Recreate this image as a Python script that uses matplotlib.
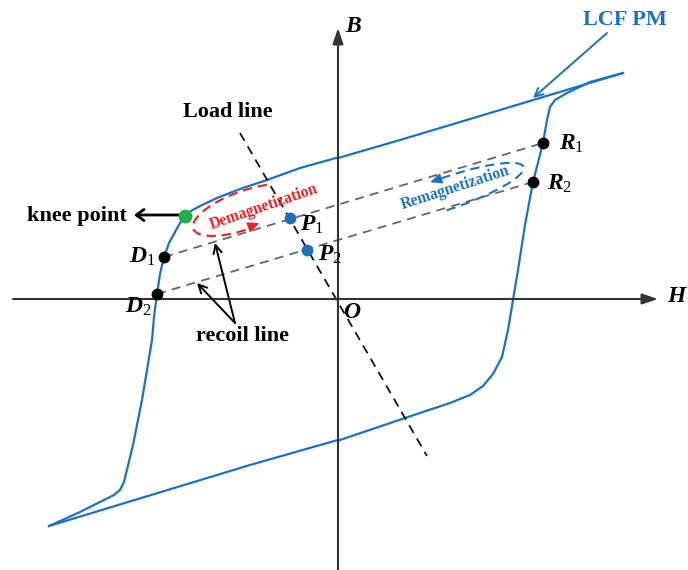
import numpy as np
import matplotlib
matplotlib.use("Agg")
import matplotlib.pyplot as plt

plt.rcParams['font.family'] = ['Liberation Serif', 'DejaVu Serif']
plt.rcParams['mathtext.fontset'] = 'custom'
plt.rcParams['mathtext.it'] = 'Liberation Serif:italic:bold'
plt.rcParams['mathtext.rm'] = 'Liberation Serif'
plt.rcParams['mathtext.bf'] = 'Liberation Serif:bold'

# ---- schematic data (H, B) with origin O at (0, 0) ----
upper_H = [285, 162, 62, 7, 2, -2, -38, -71, -98, -121, -138, -147, -153, -158, -163, -169, -174,
           -178, -181, -184, -186, -191, -196, -205, -214, -218, -224, -230, -258, -289]
upper_B = [226, 189, 159, 143, 141.5, 141, 131, 119, 110, 101, 93, 88, 83, 76, 67, 56, 42,
           25, 5, -18, -41, -71, -101, -146, -183, -191, -196, -199, -213, -227]

lower_H = [-289, -88, -2, 2, 67, 112, 132, 145, 155, 164, 170, 175, 180, 187, 195, 205, 209, 212,
           217, 229, 252, 285]
lower_B = [-227, -166, -141.5, -141, -119, -104, -96, -87, -75, -58, -31, -1, 29, 74, 117, 156, 179, 192,
           199, 206, 217, 226]

D1 = (-174, 42)
D2 = (-181, 5)
R1 = (205, 156)
R2 = (195, 117)
P1 = (-48, 81)
P2 = (-31, 49)
knee = (-153, 83)
load_line_H = [-98, 89]
load_line_B = [166, -157]

blue = '#1b72c4'
red = '#f21d1d'

fig = plt.figure(figsize=(6.88, 5.70), dpi=100)
ax = fig.add_axes([0, 0, 1, 1])
ax.set_xlim(-338, 350)
ax.set_ylim(-271, 299)
ax.axis('off')

axc = '#333333'
# axes
ax.annotate('', xy=(320, 0), xytext=(-325, 0),
            arrowprops=dict(arrowstyle='-|>,head_length=0.95,head_width=0.32', lw=1.5, color=axc,
                            shrinkA=0, shrinkB=0))
ax.annotate('', xy=(0, 271), xytext=(0, -275),
            arrowprops=dict(arrowstyle='-|>,head_length=0.95,head_width=0.32', lw=1.5, color=axc,
                            shrinkA=0, shrinkB=0))
ax.text(15, 273, 'B', fontsize=17, fontweight='bold', fontstyle='italic', ha='center', va='center')
ax.text(338, 2, 'H', fontsize=17, fontweight='bold', fontstyle='italic', ha='center', va='center')
ax.text(14, -13, 'O', fontsize=17, fontweight='bold', fontstyle='italic', ha='center', va='center')

# hysteresis loop
ax.plot(upper_H, upper_B, color=blue, lw=1.6, solid_joinstyle='round')
ax.plot(lower_H, lower_B, color=blue, lw=1.6, solid_joinstyle='round')

# recoil lines
ax.plot([D1[0], R1[0]], [D1[1], R1[1]], color='#666666', lw=1.3, ls=(0, (5, 3.5)))
ax.plot([D2[0], R2[0]], [D2[1], R2[1]], color='#666666', lw=1.3, ls=(0, (5, 3.5)))

# load line
ax.plot(load_line_H, load_line_B, color='#111111', lw=1.3, ls=(0, (5, 3.5)))

# ellipse arcs
def arc(c, a, b, ang, t0, t1, n=160):
    t = np.radians(np.linspace(t0, t1, n))
    ca, sa = np.cos(np.radians(ang)), np.sin(np.radians(ang))
    x = c[0] + a * np.cos(t) * ca - b * np.sin(t) * sa
    y = c[1] + a * np.cos(t) * sa + b * np.sin(t) * ca
    return x, y

x, y = arc((-93, 89), 55, 19, 20, 58, 272)
ax.plot(x, y, color=red, lw=1.5, ls=(0, (4.5, 2.8)))
ax.annotate('', xy=(x[-1] + 6, y[-1] + 4), xytext=(x[-1] - 2, y[-1] + 1),
            arrowprops=dict(arrowstyle='-|>,head_length=0.7,head_width=0.32', color=red, lw=1,
                            shrinkA=0, shrinkB=0))
ax.text(-74, 92, 'Demagnetization', color=red, fontsize=11.3, fontweight='bold', rotation=19,
        ha='center', va='center', rotation_mode='anchor')

x, y = arc((110, 106), 80, 16, 19, 265, 455)
ax.plot(x, y, color=blue, lw=1.5, ls=(0, (4.5, 2.8)))
ax.annotate('', xy=(x[-1] - 6, y[-1] - 2), xytext=(x[-1] + 2, y[-1] + 0.7),
            arrowprops=dict(arrowstyle='-|>,head_length=0.7,head_width=0.32', color=blue, lw=1,
                            shrinkA=0, shrinkB=0))
ax.text(117, 111, 'Remagnetization', color=blue, fontsize=11.3, fontweight='bold', rotation=18,
        ha='center', va='center', rotation_mode='anchor')

# points
for p in (D1, D2, R1, R2):
    ax.plot(*p, 'o', color='black', ms=7.5, zorder=5)
for p in (P1, P2):
    ax.plot(*p, 'o', color='#1f6fc0', ms=7.5, zorder=5)
ax.plot(*knee, 'o', color='#22b04c', ms=9, zorder=5)

# point labels
lab = dict(fontsize=17, ha='center', va='center')
ax.text(-196, 42, r'$D_1$', **lab)
ax.text(-200, -8, r'$D_2$', **lab)
ax.text(-26, 74, r'$P_1$', **lab)
ax.text(-8, 44, r'$P_2$', **lab)
ax.text(234, 155, r'$R_1$', **lab)
ax.text(222, 115, r'$R_2$', **lab)

# annotations
ax.text(-261, 83, 'knee point', fontsize=16, fontweight='bold', ha='center', va='center')
ax.annotate('', xy=(-204, 84), xytext=(-157, 84),
            arrowprops=dict(arrowstyle='->,head_length=0.55,head_width=0.4', lw=2, color='black',
                            shrinkA=0, shrinkB=0))
ax.text(-110, 187, 'Load line', fontsize=16, fontweight='bold', ha='center', va='center')
ax.text(-96, -37, 'recoil line', fontsize=16, fontweight='bold', ha='center', va='center')
for tip in ((-141, 16), (-123, 56)):
    ax.annotate('', xy=tip, xytext=(-103, -24),
                arrowprops=dict(arrowstyle='->,head_length=0.6,head_width=0.3', lw=1.4, color='black',
                                shrinkA=0, shrinkB=0))
ax.text(287, 279, 'LCF PM', fontsize=16, fontweight='bold', color=blue, ha='center', va='center')
ax.annotate('', xy=(195, 201), xytext=(269, 266),
            arrowprops=dict(arrowstyle='->,head_length=0.6,head_width=0.3', lw=1.4, color=blue,
                            shrinkA=0, shrinkB=0))

fig.savefig('out.png', dpi=100)
